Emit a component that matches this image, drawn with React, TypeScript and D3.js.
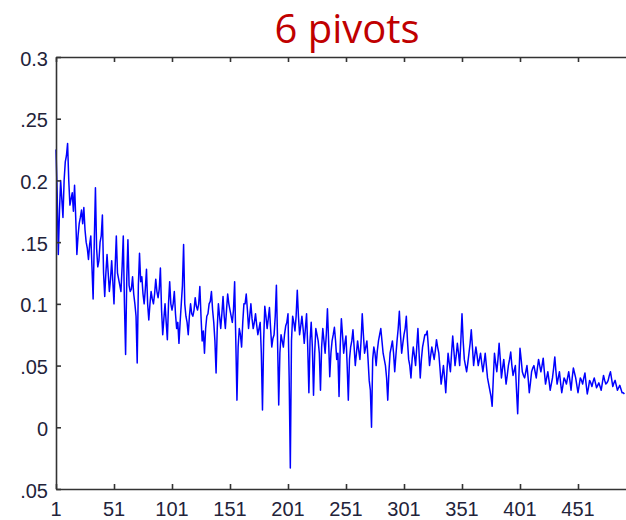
import React, { useEffect, useRef } from 'react';
import { select, scaleLinear, line, axisLeft, axisBottom, axisTop, axisRight } from 'd3';

// series: values at odd indices (1, 3, 5 ...)
const oddValues: number[] = [
  0.225, 0.14, 0.2, 0.17, 0.215, 0.23, 0.18, 0.19, 0.196, 0.14,
  0.165, 0.176, 0.178, 0.15, 0.136, 0.155, 0.104, 0.194, 0.13, 0.15,
  0.172, 0.106, 0.14, 0.11, 0.135, 0.1, 0.155, 0.12, 0.11, 0.155,
  0.059, 0.152, 0.11, 0.122, 0.1, 0.052, 0.141, 0.122, 0.1, 0.128,
  0.087, 0.11, 0.1, 0.12, 0.105, 0.129, 0.075, 0.1, 0.071, 0.118,
  0.095, 0.11, 0.08, 0.068, 0.1, 0.148, 0.09, 0.075, 0.1, 0.09,
  0.105, 0.095, 0.114, 0.07, 0.06, 0.09, 0.1, 0.11, 0.085, 0.044,
  0.1, 0.08, 0.106, 0.08, 0.108, 0.095, 0.085, 0.118, 0.022, 0.08,
  0.065, 0.1, 0.108, 0.08, 0.1, 0.08, 0.092, 0.075, 0.085, 0.014,
  0.098, 0.08, 0.097, 0.065, 0.075, 0.115, 0.018, 0.075, 0.065, 0.082,
  0.092, -0.033, 0.09, 0.078, 0.111, 0.075, 0.09, 0.068, 0.092, 0.028,
  0.085, 0.026, 0.08, 0.07, 0.03, 0.08, 0.06, 0.096, 0.041, 0.07,
  0.081, 0.055, 0.025, 0.088, 0.06, 0.074, 0.022, 0.065, 0.079, 0.05,
  0.07, 0.055, 0.092, 0.06, 0.07, 0.038, 0.0, 0.065, 0.05, 0.07,
  0.08, 0.06, 0.05, 0.022, 0.06, 0.07, 0.045, 0.07, 0.094, 0.06,
  0.075, 0.09, 0.055, 0.04, 0.065, 0.05, 0.08, 0.04, 0.065, 0.075,
  0.078, 0.05, 0.065, 0.055, 0.071, 0.06, 0.035, 0.05, 0.028, 0.06,
  0.045, 0.074, 0.05, 0.068, 0.05, 0.092, 0.055, 0.045, 0.06, 0.079,
  0.05, 0.065, 0.05, 0.06, 0.045, 0.06, 0.04, 0.03, 0.017, 0.06,
  0.045, 0.068, 0.04, 0.055, 0.035, 0.05, 0.061, 0.042, 0.05, 0.011,
  0.064, 0.045, 0.04, 0.05, 0.028, 0.045, 0.05, 0.04, 0.055, 0.045,
  0.056, 0.035, 0.045, 0.03, 0.04, 0.057, 0.035, 0.045, 0.028, 0.04,
  0.035, 0.045, 0.03, 0.048, 0.04, 0.028, 0.04, 0.035, 0.044, 0.027,
  0.038, 0.033, 0.04, 0.032, 0.036, 0.03, 0.042, 0.035, 0.038, 0.045,
  0.033, 0.038, 0.03, 0.034, 0.028, 0.027,
]

// values at even indices (2, 4, 6 ...)
const evenValues: number[] = [
  0.19, 0.175, 0.185, 0.2, 0.22, 0.2, 0.185, 0.175, 0.17, 0.155,
  0.17, 0.165, 0.16, 0.145, 0.148, 0.13, 0.15, 0.145, 0.135, 0.155,
  0.125, 0.125, 0.125, 0.12, 0.118, 0.13, 0.125, 0.115, 0.13, 0.1,
  0.12, 0.115, 0.112, 0.108, 0.09, 0.115, 0.118, 0.108, 0.112, 0.1,
  0.1, 0.104, 0.108, 0.11, 0.112, 0.095, 0.088, 0.085, 0.1, 0.1,
  0.1, 0.092, 0.085, 0.085, 0.115, 0.1, 0.085, 0.09, 0.092, 0.095,
  0.098, 0.1, 0.09, 0.078, 0.08, 0.092, 0.102, 0.095, 0.07, 0.08,
  0.09, 0.092, 0.09, 0.095, 0.1, 0.09, 0.095, 0.07, 0.065, 0.075,
  0.085, 0.1, 0.095, 0.09, 0.088, 0.085, 0.083, 0.08, 0.06, 0.07,
  0.09, 0.088, 0.08, 0.072, 0.09, 0.07, 0.06, 0.07, 0.075, 0.085,
  0.04, 0.07, 0.085, 0.09, 0.09, 0.082, 0.08, 0.08, 0.065, 0.07,
  0.065, 0.06, 0.075, 0.06, 0.065, 0.07, 0.075, 0.07, 0.06, 0.075,
  0.07, 0.06, 0.065, 0.075, 0.068, 0.05, 0.055, 0.07, 0.065, 0.06,
  0.062, 0.07, 0.075, 0.065, 0.055, 0.03, 0.055, 0.06, 0.062, 0.075,
  0.07, 0.055, 0.04, 0.045, 0.065, 0.06, 0.058, 0.08, 0.075, 0.068,
  0.08, 0.07, 0.05, 0.055, 0.058, 0.065, 0.06, 0.055, 0.07, 0.075,
  0.065, 0.058, 0.06, 0.062, 0.065, 0.048, 0.042, 0.04, 0.045, 0.052,
  0.06, 0.062, 0.058, 0.06, 0.07, 0.07, 0.05, 0.052, 0.068, 0.065,
  0.058, 0.058, 0.055, 0.052, 0.052, 0.05, 0.035, 0.025, 0.04, 0.052,
  0.055, 0.055, 0.048, 0.045, 0.042, 0.055, 0.05, 0.046, 0.03, 0.04,
  0.055, 0.042, 0.045, 0.04, 0.036, 0.048, 0.045, 0.048, 0.05, 0.05,
  0.045, 0.04, 0.038, 0.035, 0.048, 0.045, 0.04, 0.036, 0.034, 0.038,
  0.04, 0.038, 0.04, 0.044, 0.034, 0.034, 0.038, 0.04, 0.035, 0.032,
  0.036, 0.037, 0.036, 0.034, 0.033, 0.036, 0.038, 0.036, 0.042, 0.039,
  0.036, 0.034, 0.032, 0.031, 0.028,
]

const xTicks = [1, 51, 101, 151, 201, 251, 301, 351, 401, 451, 501]
const yTicks = [0.3, 0.25, 0.2, 0.15, 0.1, 0.05, 0, -0.05]
// labels as they show in the cropped picture
const yTickLabels = ['0.3', '.25', '0.2', '.15', '0.1', '.05', '0', '.05']
const title = '6 pivots'

const dims = {
  width: 626,
  height: 520,
  left: 56,
  top: 57,
  bottom: 489,
  pxPerIndex: 1.16,
}

function App() {
  const svgRef = useRef<SVGSVGElement | null>(null)

  useEffect(() => {
    const svg = select(svgRef.current)
    svg.selectAll('*').remove()

    const x = scaleLinear()
      .domain([1, 501])
      .range([dims.left, dims.left + 500 * dims.pxPerIndex])
    const y = scaleLinear()
      .domain([-0.05, 0.3])
      .range([dims.bottom, dims.top])
    const right = x(501)

    // put the two halves back in index order
    const pts: [number, number][] = []
    oddValues.forEach((v, i) => {
      pts.push([1 + 2 * i, v])
      if (i < evenValues.length) pts.push([2 + 2 * i, evenValues[i]])
    })

    const path = line<[number, number]>()
      .x(d => x(d[0]))
      .y(d => y(d[1]))

    svg.append('path')
      .datum(pts)
      .attr('d', path)
      .attr('fill', 'none')
      .attr('stroke', '#0000ff')
      .attr('stroke-width', 1.5)
      .attr('stroke-linejoin', 'round')

    const axisColor = '#333'
    const labelColor = '#23233a'
    const font = 'Liberation Sans, Arial, sans-serif'

    // frame + inward ticks, matlab style
    const bottomG = svg.append('g')
      .attr('transform', `translate(0, ${dims.bottom})`)
      .call(axisTop(x).tickValues(xTicks).tickSize(5).tickSizeOuter(0).tickFormat(() => ''))
    const topG = svg.append('g')
      .attr('transform', `translate(0, ${dims.top})`)
      .call(axisBottom(x).tickValues(xTicks).tickSize(5).tickSizeOuter(0).tickFormat(() => ''))
    const leftG = svg.append('g')
      .attr('transform', `translate(${dims.left}, 0)`)
      .call(axisRight(y).tickValues(yTicks).tickSize(5).tickSizeOuter(0).tickFormat(() => ''))
    const rightG = svg.append('g')
      .attr('transform', `translate(${right}, 0)`)
      .call(axisLeft(y).tickValues(yTicks).tickSize(5).tickSizeOuter(0).tickFormat(() => ''))

    ;[bottomG, topG, leftG, rightG].forEach(g => {
      g.select('.domain').attr('stroke', axisColor).attr('stroke-width', 1.6)
      g.selectAll('.tick line').attr('stroke', axisColor).attr('stroke-width', 1.6)
    })

    svg.append('g')
      .selectAll('text')
      .data(xTicks.filter(t => x(t) < dims.width))
      .enter()
      .append('text')
      .attr('x', d => x(d))
      .attr('y', 516)
      .attr('text-anchor', 'middle')
      .attr('font-family', font)
      .attr('font-size', 20)
      .attr('fill', labelColor)
      .text(d => `${d}`)

    svg.append('g')
      .selectAll('text')
      .data(yTicks)
      .enter()
      .append('text')
      .attr('x', 48)
      .attr('y', d => y(d) + 8.5)
      .attr('text-anchor', 'end')
      .attr('font-family', font)
      .attr('font-size', 20)
      .attr('fill', labelColor)
      .text((d, i) => yTickLabels[i])

    svg.append('text')
      .attr('x', 347)
      .attr('y', 43)
      .attr('text-anchor', 'middle')
      .attr('font-family', 'Open Sans, Noto Sans, sans-serif')
      .attr('font-size', 40)
      .attr('fill', '#c00000')
      .text(title)
  }, [])

  return (
    <div>
      <svg
        ref={svgRef}
        width={dims.width}
        height={dims.height}
        style={{ position: 'absolute', left: 0, top: 0, background: '#fff' }}
      />
    </div>
  );
}

export default App;
